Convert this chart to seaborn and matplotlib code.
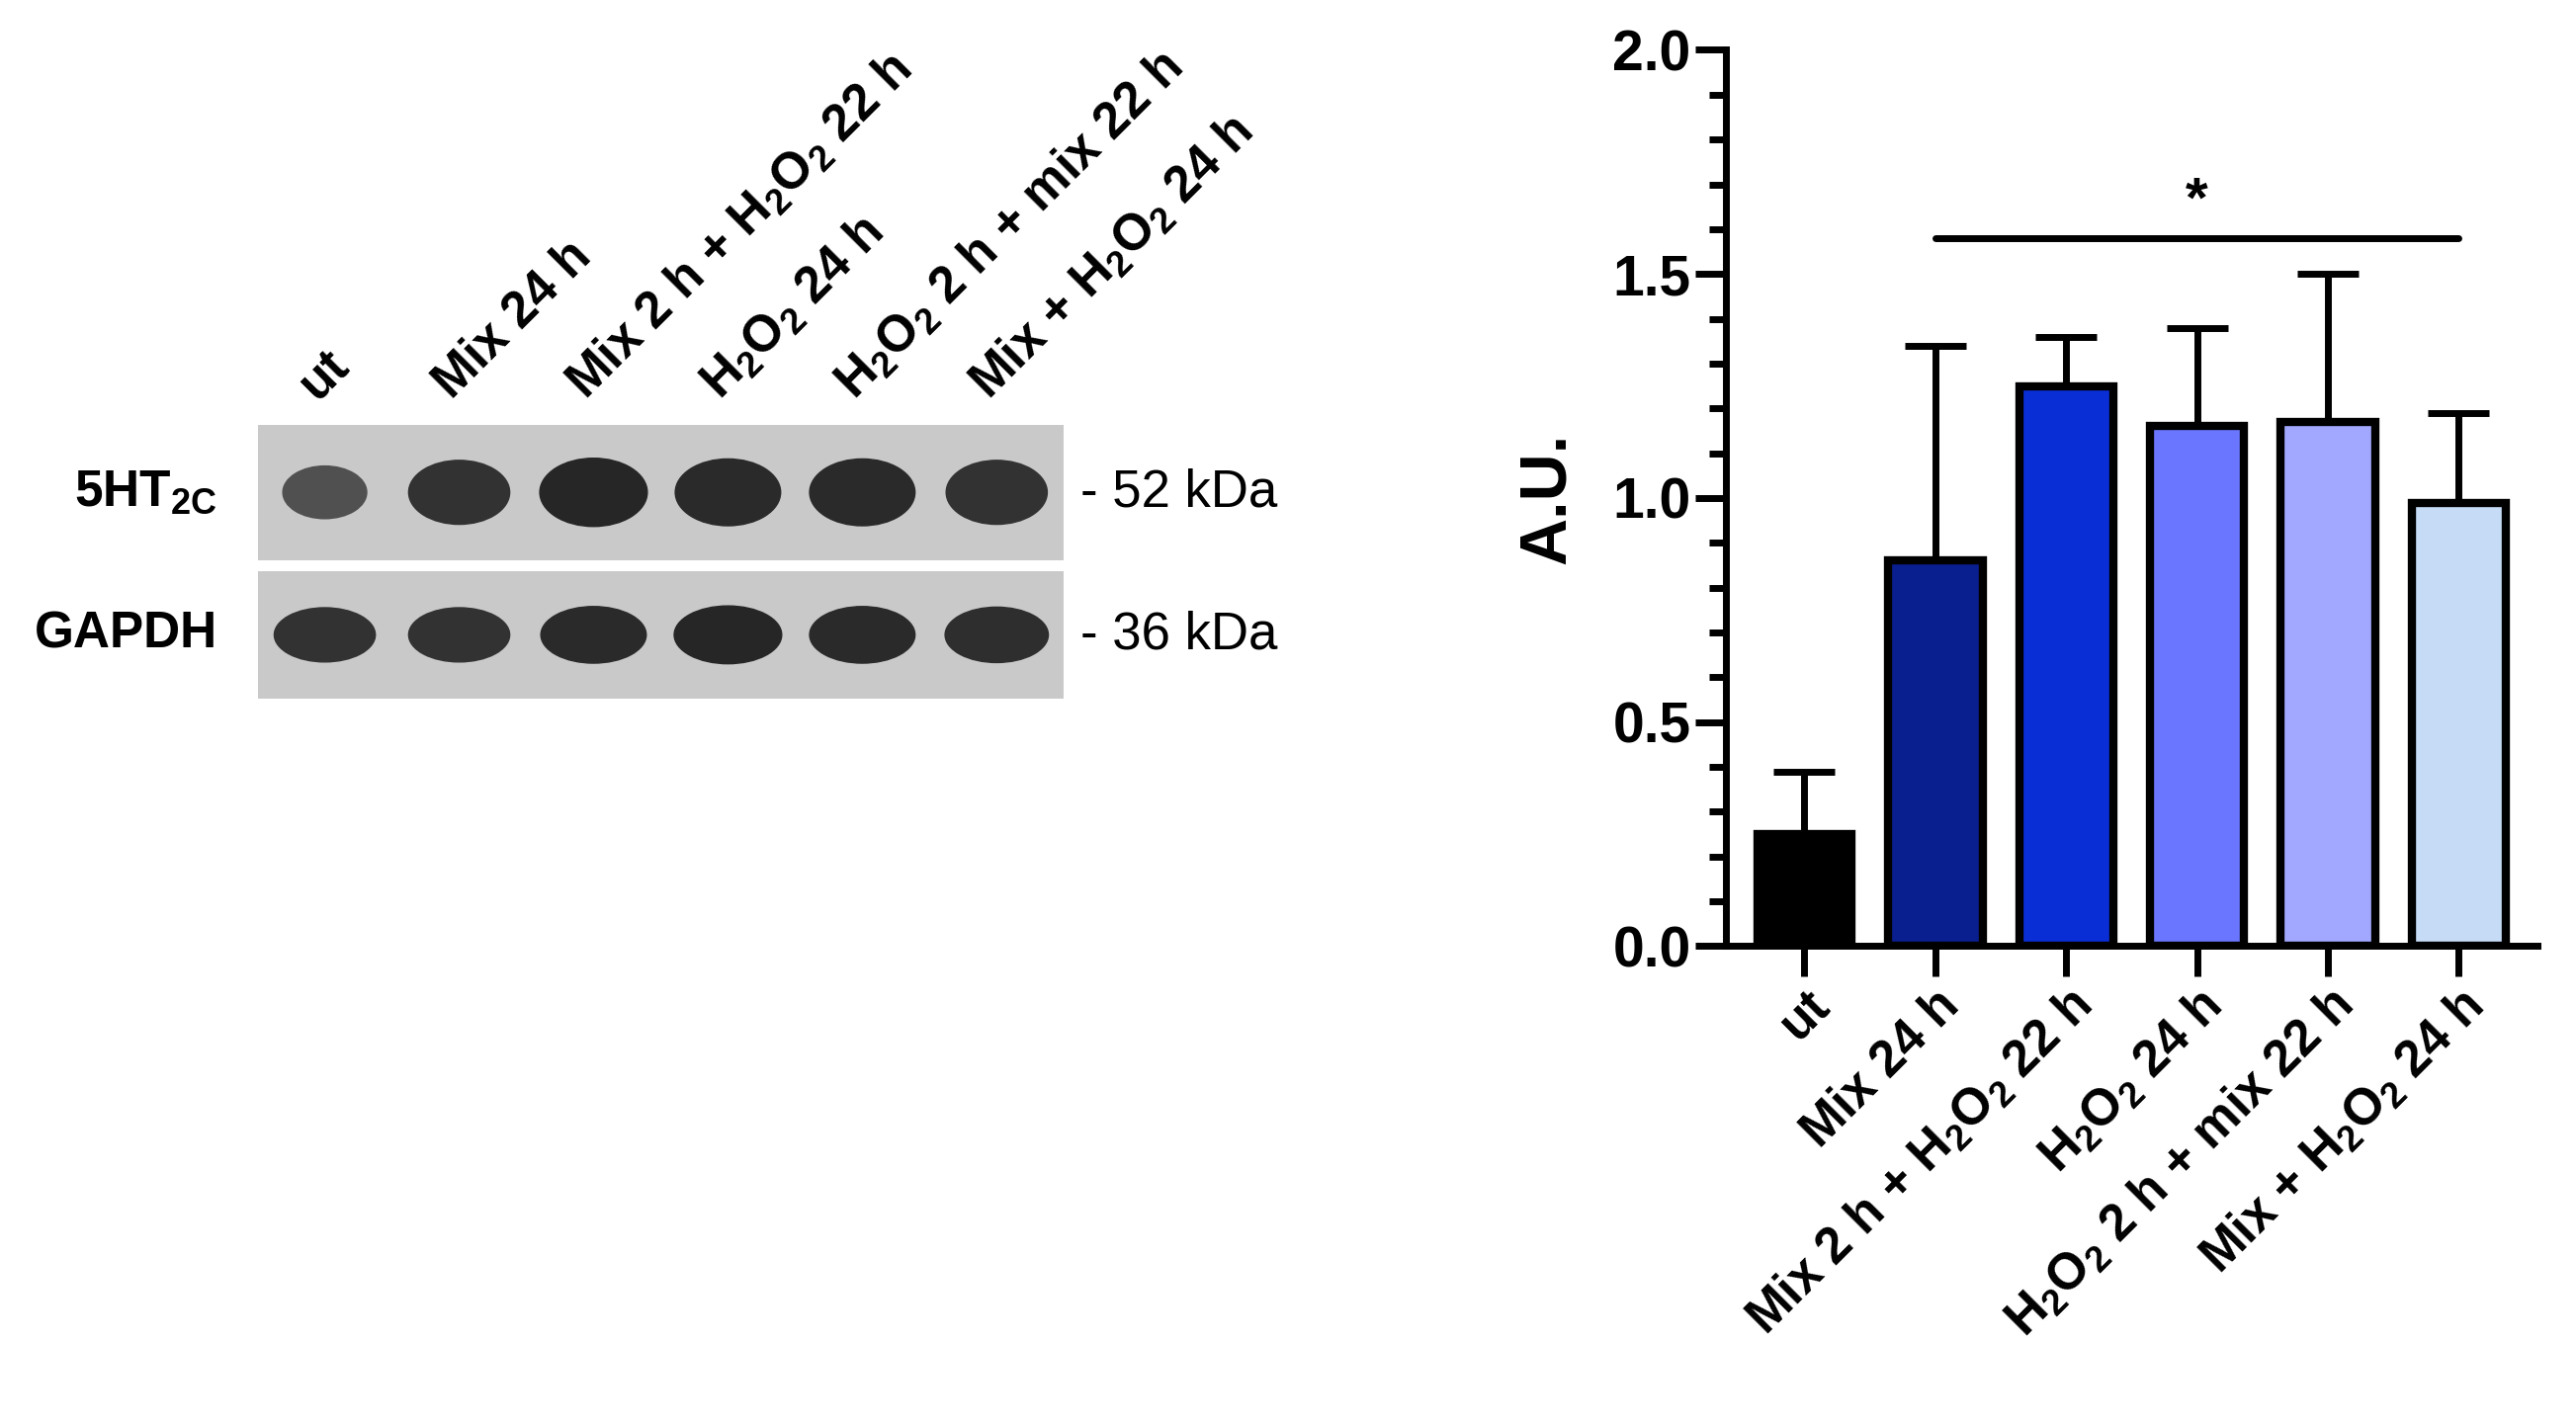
import matplotlib
matplotlib.use("Agg")
import matplotlib.pyplot as plt
import seaborn as sns
import numpy as np
import pandas as pd
from matplotlib.patches import Ellipse

sns.set_style("ticks")
plt.rcParams['font.family'] = ['Liberation Sans', 'DejaVu Sans']
plt.rcParams['mathtext.fontset'] = 'custom'
plt.rcParams['mathtext.rm'] = 'Liberation Sans:bold'
plt.rcParams['mathtext.bf'] = 'Liberation Sans:bold'
plt.rcParams['mathtext.default'] = 'rm'
for k in ['text.color', 'axes.labelcolor', 'xtick.color', 'ytick.color', 'axes.edgecolor']:
    plt.rcParams[k] = 'black'

categories = ["ut", "Mix 24 h", "Mix 2 h + H$_2$O$_2$ 22 h", "H$_2$O$_2$ 24 h",
              "H$_2$O$_2$ 2 h + mix 22 h", "Mix + H$_2$O$_2$ 24 h"]
means = [0.25, 0.86, 1.25, 1.16, 1.17, 0.99]
upper = [0.39, 1.34, 1.36, 1.38, 1.50, 1.19]
colors = ["#000000", "#0a1f8f", "#0a2ed6", "#6a76ff", "#a2a8ff", "#c6dcf6"]
band_5ht = [0.45, 0.85, 1.0, 0.95, 0.95, 0.85]
band_gapdh = [0.85, 0.85, 0.95, 1.0, 0.95, 0.9]
df = pd.DataFrame({"cond": categories, "val": means})

fig = plt.figure(figsize=(26.06, 14.42), dpi=100)
ax = fig.add_axes([0.670, 0.336, 0.315, 0.629])
sns.barplot(data=df, x="cond", y="val", hue="cond", palette=colors, legend=False,
            edgecolor="black", linewidth=6, width=0.72, saturation=1, ax=ax)
x = np.arange(len(categories))
ax.errorbar(x, means, yerr=[np.zeros(len(means)), np.array(upper) - np.array(means)],
            fmt="none", ecolor="black", elinewidth=5, capsize=22, capthick=5, zorder=0)
ax.set_ylim(0, 2.0)
ax.set_xlim(-0.6, 5.6)
ax.set_yticks(np.arange(0, 2.01, 0.5))
ax.set_yticks(np.arange(0, 2.01, 0.1), minor=True)
ax.set_yticklabels([f"{v:.1f}" for v in np.arange(0, 2.01, 0.5)], fontsize=41, fontweight="bold")
ax.set_xticks(x)
ax.set_xticklabels(categories, rotation=45, ha="right", rotation_mode="anchor",
                   fontsize=37, fontweight="bold")
ax.tick_params(axis="both", which="major", width=5, length=22)
ax.tick_params(axis="y", which="minor", width=5, length=12)
ax.set_xlabel("")
ax.set_ylabel("A.U.", fontsize=48, fontweight="bold", labelpad=25)
for s in ["top", "right"]:
    ax.spines[s].set_visible(False)
for s in ["left", "bottom"]:
    ax.spines[s].set_linewidth(5)
ax.plot([1, 5], [1.58, 1.58], color="black", lw=5, clip_on=False)
ax.text(3, 1.60, "*", ha="center", va="bottom", fontsize=42, fontweight="bold")

# Western blot panels
for rect, bands, lab, kda, h in [([0.100, 0.607, 0.313, 0.095], band_5ht, "5HT$_{2C}$", "- 52 kDa", 0.42),
                                  ([0.100, 0.510, 0.313, 0.089], band_gapdh, "GAPDH", "- 36 kDa", 0.38)]:
    bx = fig.add_axes(rect)
    bx.set_xlim(-0.5, 5.5); bx.set_ylim(0, 1)
    bx.set_facecolor("#c9c9c9")
    for i, b in enumerate(bands):
        g = 0.45 - 0.3 * b
        bx.add_patch(Ellipse((i, 0.5), 0.8 * (0.6 + 0.4 * b), h * (0.7 + 0.5 * b),
                             color=(g, g, g)))
    bx.set_xticks([]); bx.set_yticks([])
    for s in bx.spines.values():
        s.set_visible(False)
    bx.text(1.02, 0.5, kda, transform=bx.transAxes, fontsize=38, va="center")
    bx.text(-0.05, 0.5, lab, transform=bx.transAxes, fontsize=37, fontweight="bold",
            va="center", ha="right")
    if lab.startswith("5HT"):
        for i, c in enumerate(categories):
            bx.text(i, 1.12, c, rotation=45, ha="left", va="bottom", rotation_mode="anchor",
                    fontsize=37, fontweight="bold")

fig.savefig("out.png", dpi=100)
